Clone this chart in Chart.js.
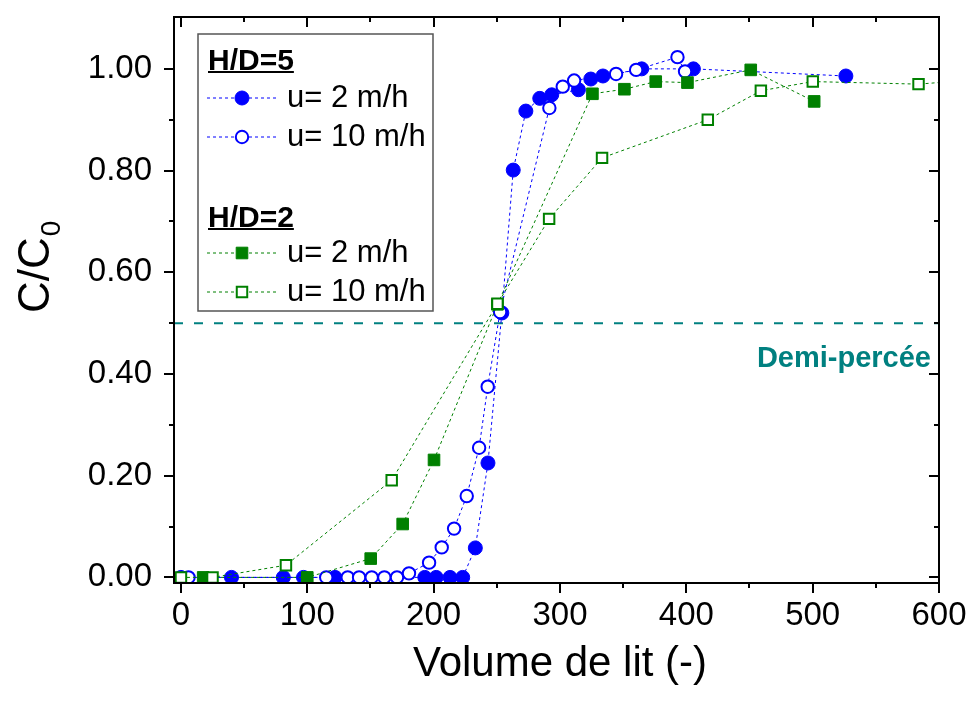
<!DOCTYPE html>
<html>
<head>
<meta charset="utf-8">
<title>Courbes de percée</title>
<script src="https://cdn.jsdelivr.net/npm/chart.js@4.4.1/dist/chart.umd.min.js"></script>
<style>
  html, body { margin: 0; padding: 0; background: #fff; }
</style>
</head>
<body>
<canvas id="chart" width="971" height="702"></canvas>
<script>
  // H/D=5, u=2 m/h (ronds pleins)
  const hd5u2X = [0, 40, 81, 97, 122, 193, 202, 213, 223, 233, 243, 254, 263, 273, 284, 293.5, 314.6, 324.4, 334, 364.7, 405.6, 526.3];
  const hd5u2Y = [0, 0, 0, 0, 0, 0, 0, 0, 0, 0.058, 0.225, 0.52, 0.801, 0.917, 0.942, 0.949, 0.959, 0.98, 0.986, 1.0, 1.0, 0.986];
  // H/D=5, u=10 m/h (ronds vides)
  const hd5u10X = [6, 115, 132, 141, 151, 161, 171, 180.5, 196.4, 206.4, 216.2, 226.2, 236, 242.8, 252.6, 291.6, 302.2, 311.2, 344.4, 360.3, 393, 399];
  const hd5u10Y = [0, 0, 0, 0, 0, 0, 0, 0.008, 0.029, 0.059, 0.096, 0.16, 0.255, 0.375, 0.522, 0.923, 0.965, 0.977, 0.99, 0.998, 1.023, 0.995];
  // H/D=2, u=2 m/h (carrés pleins)
  const hd2u2X = [17.6, 100, 150.2, 175.5, 200.3, 250.5, 325.7, 351, 375.8, 400.9, 451, 501.2];
  const hd2u2Y = [0, 0, 0.037, 0.105, 0.231, 0.537, 0.951, 0.96, 0.975, 0.973, 0.998, 0.936];
  // H/D=2, u=10 m/h (carrés vides)
  const hd2u10X = [0, 25, 83.1, 166.8, 250.5, 291.4, 333.3, 417, 459, 500.1, 583.8, 620];
  const hd2u10Y = [0, 0, 0.024, 0.191, 0.538, 0.705, 0.825, 0.9, 0.957, 0.975, 0.97, 0.977];

  const demiY = 0.5;
  const xRange = [-5.5, 600];
  const yRange = [-0.011, 1.102];
  const xTicks = [0, 100, 200, 300, 400, 500, 600];
  const xMinor = [50, 150, 250, 350, 450, 550];
  const yTicks = [0, 0.2, 0.4, 0.6, 0.8, 1.0];
  const yMinor = [0.1, 0.3, 0.5, 0.7, 0.9];

  const groupTitles = ['H/D=5', 'H/D=2'];
  const seriesLabels = ['u= 2 m/h', 'u= 10 m/h', 'u= 2 m/h', 'u= 10 m/h'];

  const FONT = "'Liberation Sans', Arial, sans-serif";
  const BLUE = '#0000ff';
  const GREEN = '#008000';
  const TEAL = '#008080';

  const pts = (xs, ys) => xs.map((x, i) => ({ x: x, y: ys[i] }));

  // styles des séries (order 0 = dessiné au-dessus)
  function serie(label, xs, ys, color, style, filled, radius, order) {
    return {
      label: label,
      data: pts(xs, ys),
      showLine: true,
      borderColor: color,
      borderWidth: 1,
      borderDash: [3, 3],
      pointStyle: style,
      pointRadius: radius,
      pointBackgroundColor: filled ? color : '#ffffff',
      pointBorderColor: color,
      pointBorderWidth: filled ? 1 : 2,
      order: order
    };
  }

  const datasets = [
    serie(seriesLabels[0], hd5u2X, hd5u2Y, BLUE, 'circle', true, 7, 3),
    serie(seriesLabels[1], hd5u10X, hd5u10Y, BLUE, 'circle', false, 6.2, 2),
    serie(seriesLabels[2], hd2u2X, hd2u2Y, GREEN, 'rect', true, 8.2, 1),
    serie(seriesLabels[3], hd2u10X, hd2u10Y, GREEN, 'rect', false, 7.4, 0),
    {
      label: 'Demi-percée',
      data: [{ x: xRange[0], y: demiY }, { x: xRange[1], y: demiY }],
      showLine: true,
      borderColor: TEAL,
      borderWidth: 2,
      borderDash: [9, 11],
      pointRadius: 0,
      order: 4
    }
  ];
  datasets[3].clip = { left: 10, top: 10, right: 0, bottom: 10 };

  // pas de marge automatique autour des axes
  const noPad = s => { s.paddingTop = 0; s.paddingBottom = 0; s.paddingLeft = 0; s.paddingRight = 0; };

  // cadre, graduations, légende et titres
  const decor = {
    id: 'decor',
    afterDraw(chart) {
      const ctx = chart.ctx;
      const a = chart.chartArea;
      const xs = chart.scales.x, ys = chart.scales.y;
      ctx.save();
      ctx.strokeStyle = '#000';
      ctx.lineWidth = 2;
      ctx.strokeRect(a.left, a.top, a.right - a.left, a.bottom - a.top);

      ctx.beginPath();
      const tickX = (v, len) => {
        const p = Math.round(xs.getPixelForValue(v));
        ctx.moveTo(p, a.bottom); ctx.lineTo(p, a.bottom + len);
        ctx.moveTo(p, a.top); ctx.lineTo(p, a.top + len);
      };
      const tickY = (v, len) => {
        const p = Math.round(ys.getPixelForValue(v));
        ctx.moveTo(a.left, p); ctx.lineTo(a.left - len, p);
        ctx.moveTo(a.right, p); ctx.lineTo(a.right - len, p);
      };
      xTicks.forEach(v => tickX(v, 10));
      xMinor.forEach(v => tickX(v, 5));
      yTicks.forEach(v => tickY(v, 10));
      yMinor.forEach(v => tickY(v, 5));
      ctx.stroke();

      // texte demi-percée
      ctx.fillStyle = TEAL;
      ctx.font = 'bold 29px ' + FONT;
      ctx.textAlign = 'right';
      ctx.textBaseline = 'alphabetic';
      ctx.fillText('Demi-percée', a.right - 8, ys.getPixelForValue(demiY) + 44);

      // titres des axes
      ctx.fillStyle = '#000';
      ctx.font = '42px ' + FONT;
      ctx.textAlign = 'center';
      ctx.fillText('Volume de lit (-)', 560, 676);

      ctx.save();
      ctx.translate(49, 313);
      ctx.rotate(-Math.PI / 2);
      ctx.textAlign = 'left';
      ctx.font = '44px ' + FONT;
      ctx.fillText('C/C', 0, 0);
      const w = ctx.measureText('C/C').width;
      ctx.font = '28px ' + FONT;
      ctx.fillText('0', w + 1, 11);
      ctx.restore();

      // légende
      const L = 198, T = 34, W = 235, H = 277;
      ctx.fillStyle = '#fff';
      ctx.fillRect(L, T, W, H);
      ctx.strokeStyle = '#555';
      ctx.lineWidth = 1.5;
      ctx.strokeRect(L, T, W, H);

      ctx.fillStyle = '#000';
      ctx.textAlign = 'left';
      ctx.font = 'bold 30px ' + FONT;
      [[groupTitles[0], 70], [groupTitles[1], 227]].forEach(([t, base]) => {
        ctx.fillText(t, 208, base);
        const tw = ctx.measureText(t).width;
        ctx.fillRect(208, base + 1, tw, 2);
      });

      const rowsY = [98, 137, 253, 292];
      chart.data.datasets.slice(0, 4).forEach((d, i) => {
        const y = rowsY[i];
        ctx.save();
        ctx.strokeStyle = d.borderColor;
        ctx.lineWidth = 1;
        ctx.setLineDash([3, 3]);
        ctx.beginPath();
        ctx.moveTo(207, y); ctx.lineTo(277, y);
        ctx.stroke();
        ctx.restore();
        ctx.fillStyle = d.pointBackgroundColor;
        ctx.strokeStyle = d.pointBorderColor;
        ctx.lineWidth = d.pointBorderWidth;
        Chart.helpers.drawPoint(ctx, {
          pointStyle: d.pointStyle, radius: d.pointRadius, rotation: 0, borderWidth: d.pointBorderWidth
        }, 242, y);
        ctx.fillStyle = '#000';
        ctx.font = '31px ' + FONT;
        ctx.textBaseline = 'middle';
        ctx.fillText(seriesLabels[i], 287, y);
        ctx.textBaseline = 'alphabetic';
      });
      ctx.restore();
    }
  };

  new Chart(document.getElementById('chart'), {
    type: 'scatter',
    data: { datasets: datasets },
    options: {
      responsive: false,
      animation: false,
      devicePixelRatio: 1,
      layout: { padding: { top: 17, right: 32, left: 0, bottom: 0 } },
      plugins: { legend: { display: false }, tooltip: { enabled: false } },
      scales: {
        x: {
          type: 'linear', min: xRange[0], max: xRange[1],
          grid: { display: false, drawTicks: false },
          border: { display: false },
          afterBuildTicks: s => { s.ticks = xTicks.map(v => ({ value: v })); },
          afterFit: s => { s.height = 119; noPad(s); },
          ticks: { color: '#000', padding: 13, maxRotation: 0, autoSkip: false,
                   font: { family: FONT, size: 33 }, callback: v => String(v) }
        },
        y: {
          type: 'linear', min: yRange[0], max: yRange[1],
          grid: { display: false, drawTicks: false },
          border: { display: false },
          afterBuildTicks: s => { s.ticks = yTicks.map(v => ({ value: v })); },
          afterFit: s => { s.width = 174; noPad(s); },
          ticks: { color: '#000', padding: 22, autoSkip: false,
                   font: { family: FONT, size: 33 }, callback: v => v.toFixed(2) }
        }
      }
    },
    plugins: [decor]
  });
</script>
</body>
</html>
